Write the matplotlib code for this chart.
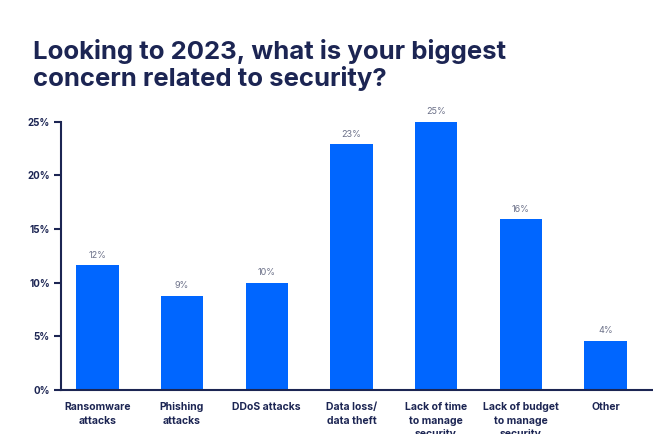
import matplotlib.pyplot as plt

plt.rcParams["font.family"] = ["Inter", "DejaVu Sans"]

categories = ["Ransomware\nattacks", "Phishing\nattacks", "DDoS attacks", "Data loss/\ndata theft",
              "Lack of time\nto manage\nsecurity", "Lack of budget\nto manage\nsecurity", "Other"]
values = [11.6, 8.8, 10.0, 22.9, 25.0, 15.9, 4.6]
value_labels = ["12%", "9%", "10%", "23%", "25%", "16%", "4%"]
yticks = [0, 5, 10, 15, 20, 25]

navy = "#1c2553"
bar_color = "#0066ff"

fig = plt.figure(figsize=(6.53, 4.34), dpi=100)
ax = fig.add_axes([0.0934, 0.1014, 0.905, 0.6185])

x = list(range(len(categories)))
bars = ax.bar(x, values, width=0.5, color=bar_color)

for b, lab in zip(bars, value_labels):
    ax.annotate(lab, (b.get_x() + b.get_width() / 2, b.get_height()), xytext=(0, 4),
                textcoords="offset points", ha="center", va="bottom", fontsize=6.5, color="#6b7088")

ax.set_xlim(-0.43, 6.55)
ax.set_ylim(0, 25)
ax.set_yticks(yticks)
ax.set_yticklabels([f"{t}%" for t in yticks], fontsize=7, fontweight="bold", color=navy)
ax.set_xticks(x)
ax.set_xticklabels(categories, fontsize=7.5, fontweight="bold", color=navy, linespacing=1.4)
ax.tick_params(axis="x", length=0, pad=9)
ax.tick_params(axis="y", length=5, width=1.5, color=navy, pad=3)

for s in ["top", "right"]:
    ax.spines[s].set_visible(False)
for s in ["left", "bottom"]:
    ax.spines[s].set_color(navy)
    ax.spines[s].set_linewidth(1.5)

fig.text(0.05, 0.91, "Looking to 2023, what is your biggest\nconcern related to security?",
         fontsize=18.5, fontweight="bold", color=navy, ha="left", va="top", linespacing=1.08)

fig.savefig("out.png", dpi=100)
